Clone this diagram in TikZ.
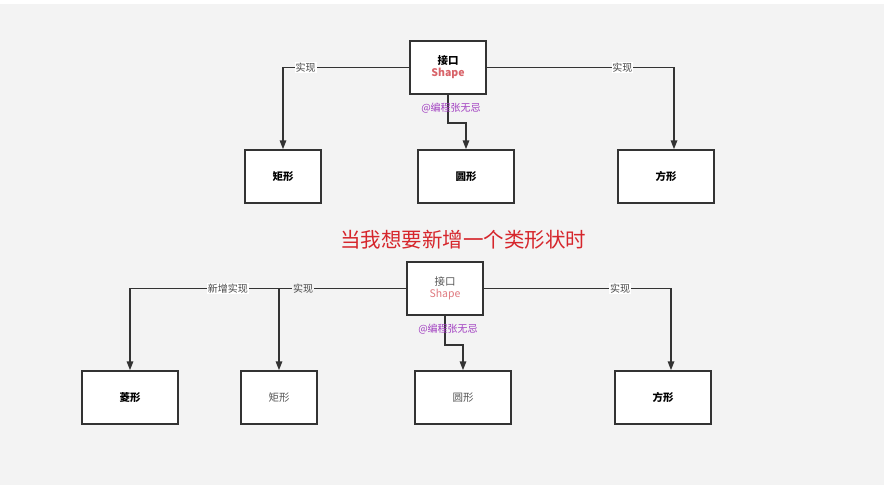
\documentclass[tikz,border=0pt]{standalone}
\usepackage{fontspec}
\setmainfont{Noto Sans CJK SC}
\usetikzlibrary{arrows.meta}
\definecolor{bgc}{HTML}{F3F3F3}
\definecolor{linec}{HTML}{333333}
\definecolor{shapec}{HTML}{D9646A}
\definecolor{shapel}{HTML}{E07A80}
\definecolor{purp}{HTML}{A03CC0}
\definecolor{titlec}{HTML}{D6262C}
\definecolor{grayt}{HTML}{555555}
\tikzset{
  box/.style={draw=linec, line width=1.5pt, fill=white, minimum width=76pt, minimum height=53pt, inner sep=0pt, font=\fontsize{10.5}{13}\selectfont},
  wbox/.style={box, minimum width=96pt},
  conn/.style={draw=linec, line width=1.6pt, -{Triangle[length=9pt,width=6.5pt]}},
  lbl/.style={fill=white, inner sep=0.8pt, text=linec!90, font=\fontsize{10}{12}\selectfont},
  wm/.style={text=purp, inner sep=0pt, font=\fontsize{10}{12}\selectfont}
}
\begin{document}
\begin{tikzpicture}[x=1pt,y=-1pt]
\fill[white] (0,0) rectangle (884,485);
\fill[bgc] (0,4) rectangle (884,485);
\useasboundingbox (0,0) rectangle (884,485);

% ---- top diagram ----
\node[box, align=center] (t0) at (448,67.5) {\bfseries 接口\\[-1pt]{\color{shapec}\bfseries Shape}};
\node[box] (t1) at (283,176.5) {\bfseries 矩形};
\node[wbox] (t2) at (466,176.5) {\bfseries 圆形};
\node[wbox] (t3) at (666,176.5) {\bfseries 方形};

\draw[conn] (t0.west) -| node[lbl, pos=0.41] {实现} (t1.north);
\draw[conn] (t0.east) -| node[lbl, pos=0.362] {实现} ([xshift=8pt]t3.north);
\draw[conn] (t0.south) -- ++(0,28) -| (t2.north);
\node[wm] (w1) at ([xshift=3pt,yshift=-13pt]t0.south) {@编程张无忌};

% ---- title ----
\node[text=titlec, inner sep=0pt, font=\fontsize{20.5}{23}\selectfont] (title) at (463,240) {当我想要新增一个类形状时};

% ---- bottom diagram ----
\node[box, align=center] (b0) at (445,288.5) {{\color{grayt}接口}\\[-1pt]{\color{shapel}Shape}};
\node[wbox] (b1) at (130,397.5) {\bfseries 菱形};
\node[box] (b2) at (279,397.5) {\color{grayt}矩形};
\node[wbox] (b3) at (463,397.5) {\color{grayt}圆形};
\node[wbox] (b4) at (663,397.5) {\bfseries 方形};

\draw[conn] (b0.west) -| node[lbl, pos=0.323] {新增实现} (b1.north);
\draw[conn] (b0.west -| b2.north) -- (b2.north);
\node[lbl, fill=bgc] (l2) at (303,289) {实现};
\draw[conn] (b0.east) -| node[lbl, pos=0.364] {实现} ([xshift=8pt]b4.north);
\draw[conn] (b0.south) -- ++(0,29) -| (b3.north);
\node[wm] (w2) at ([xshift=3pt,yshift=-13pt]b0.south) {@编程张无忌};
\end{tikzpicture}
\end{document}
